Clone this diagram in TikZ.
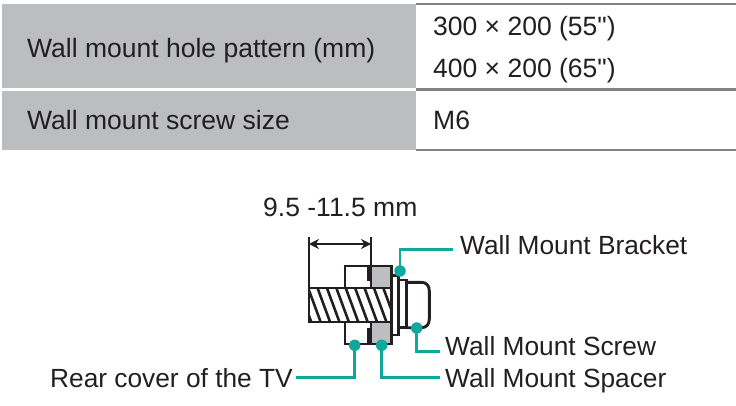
\documentclass[tikz,border=0pt]{standalone}
\usepackage{fontspec}
\setmainfont{Liberation Sans}
\newfontfamily\plainlib{Liberation Sans}
\usetikzlibrary{arrows.meta}
\definecolor{cellgray}{HTML}{BBBDBF}
\definecolor{rulegray}{HTML}{808285}
\definecolor{tealc}{HTML}{0FA89C}
\definecolor{ink}{HTML}{231F20}
\definecolor{partgray}{HTML}{BCBEC0}
\tikzset{
  x=1pt,y=-1pt,
  txt/.style={inner sep=0pt,anchor=base west,text=ink,font=\plainlib\fontsize{26.5}{26.5}\selectfont},
  lbl/.style={inner sep=0pt,text=ink,font=\plainlib\fontsize{26.3}{26.3}\selectfont},
  rowrule/.style={draw=rulegray,line width=2.4pt},
  part/.style={draw=ink,line width=2.9pt,line join=miter},
  ext/.style={draw=ink,line width=1.7pt},
  dotn/.style={circle,fill=tealc,draw=none,minimum size=11.5pt,inner sep=0pt},
  lead/.style={draw=tealc,line width=2.8pt},
}
\begin{document}
\begin{tikzpicture}
\useasboundingbox (0,0) rectangle (736,406);
% table
\fill[cellgray] (2,4) rectangle (416,88);
\fill[cellgray] (2,91) rectangle (416,150);
\draw[rowrule] (416,4) -- (736,4);
\draw[rowrule] (416,89.5) -- (736,89.5);
\draw[rowrule] (416,150) -- (736,150);
\node[txt] (t1) at (27,58) {Wall mount hole pattern (mm)};
\node[txt] (t2) at (27,130) {Wall mount screw size};
\node[txt] (t3) at (433,35.5) {300 × 200 (55")};
\node[txt] (t4) at (433,78) {400 × 200 (65")};
\node[txt] (t5) at (433,130) {M6};
% screw drawing
\node[txt] (dim) at (263,216) {9.5 -11.5 mm};
\coordinate (dl) at (309,244);
\coordinate (dr) at (371,244);
\draw[ext] (309,236.5) -- (309,288);
\draw[ext] (371,236.5) -- (371,266);
\draw[line width=2.8pt,draw=ink,{Stealth[length=10pt,width=10pt]}-{Stealth[length=10pt,width=10pt]}] (dl) -- (dr);
% spacer
\fill[partgray] (371,266) rectangle (391.7,288);
\fill[partgray] (371,322) rectangle (391.7,344);
% rear cover
\draw[part] (345,288) -- (345,266) -- (368.3,266) -- (368.3,280) -- (371,280);
\draw[part] (345,322) -- (345,344) -- (368.3,344) -- (368.3,329) -- (371,329);
% spacer outline
\draw[part] (371,288) -- (371,266) -- (391.7,266) -- (391.7,288);
\draw[part] (371,322) -- (371,344) -- (391.7,344) -- (391.7,322);
% thread
\begin{scope}
\clip (309,288) rectangle (391.7,322);
\foreach \i in {0,...,10}{
  \draw[draw=ink,line width=2.6pt] (298+\i*9.4,286) -- (312+\i*9.4,324);
}
\end{scope}
\draw[part] (309,288) rectangle (391.7,322);
% bracket, washer, head
\draw[part] (391.7,275.7) -- (398.3,275.7) -- (398.3,335) -- (391.7,335) -- cycle;
\draw[part] (398.3,280) -- (406.7,280) -- (406.7,327.7) -- (398.3,327.7);
\draw[part] (406.7,282.3) -- (421,282.3) .. controls (426.5,282.3) and (429.3,285.5) .. (429.3,291) -- (429.3,319) .. controls (429.3,324.5) and (426.5,327.7) .. (421,327.7) -- (406.7,327.7);
% dots and labels
\node[dotn] (d1) at (400,271) {};
\node[dotn] (d2) at (416.7,328) {};
\node[dotn] (d3) at (354.7,345.3) {};
\node[dotn] (d4) at (381.7,345.3) {};
\node[lbl,anchor=base west] (l1) at (460,254) {Wall Mount Bracket};
\node[lbl,anchor=base west] (l2) at (445,355) {Wall Mount Screw};
\node[lbl,anchor=base west] (l3) at (445,387) {Wall Mount Spacer};
\node[lbl,anchor=base east] (l4) at (293,387) {Rear cover of the TV};
\coordinate (e1) at (452.7,249.5);
\coordinate (e2) at (440,351.5);
\coordinate (e3) at (296,377.5);
\coordinate (e4) at (440,377.5);
\draw[lead] (d1.center) |- (e1);
\draw[lead] (d2.center) |- (e2);
\draw[lead] (d3.center) |- (e3);
\draw[lead] (d4.center) |- (e4);
\end{tikzpicture}
\end{document}
